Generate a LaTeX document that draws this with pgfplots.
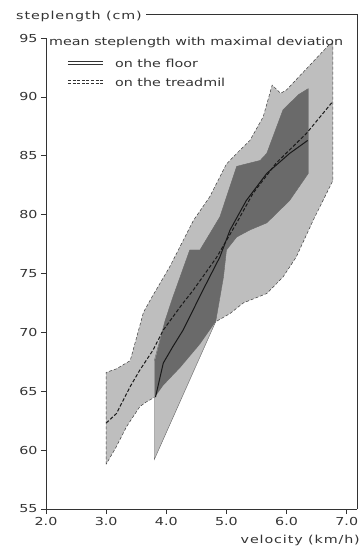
\documentclass[border=0pt]{standalone}
\usepackage{pgfplots}
\pgfplotsset{compat=1.18}
\usepackage{fontspec}
\setmainfont{DejaVu Sans}[FakeStretch=1.3]
\definecolor{lightg}{HTML}{BEBEBE}
\definecolor{darkg}{HTML}{6A6A6A}
\definecolor{txt}{HTML}{333333}
\begin{document}
\begin{tikzpicture}[font=\fontsize{11}{13}\selectfont]
\useasboundingbox (-46pt,-38pt) rectangle (316pt,509pt);
\begin{axis}[
  anchor=south west, at={(0,0)},
  scale only axis, width=311pt, height=471pt,
  xmin=2, xmax=7.17, ymin=55, ymax=95,
  axis x line=bottom, axis y line=left,
  axis line style={-, txt, line width=0.6pt},
  xtick={2,3,4,5,6,7}, xticklabels={2.0,3.0,4.0,5.0,6.0,7.0},
  ytick={55,60,65,70,75,80,85,90,95},
  tick align=outside, major tick length=5pt,
  tick style={txt, line width=0.6pt},
  tick label style={text=txt, font=\fontsize{11}{13}\selectfont},
  /pgf/number format/assume math mode=true,
  clip=false,
]
% treadmill band
\addplot[fill=lightg, draw=black!75, densely dashed, line width=0.5pt] coordinates {
(3.0,58.8)(3.0,66.6)(3.17,66.9)(3.4,67.6)(3.62,71.7)(3.75,72.9)(4.06,75.6)(4.45,79.5)(4.72,81.5)(5.0,84.3)(5.17,85.2)(5.39,86.3)(5.61,88.3)(5.76,91.0)(5.9,90.3)(6.0,90.6)(6.72,94.5)(6.77,94.5)(6.77,82.9)(6.44,79.5)(6.16,76.4)(5.94,74.7)(5.67,73.3)(5.28,72.5)(5.06,71.6)(4.82,70.9)(4.56,69.0)(4.23,67.0)(3.95,65.5)(3.81,64.5)(3.67,64.1)(3.56,63.7)(3.34,62.0)(3.17,60.3)(3.0,58.8)
} -- cycle;
% floor band
\addplot[fill=lightg, draw=black!60, line width=0.4pt] coordinates {
(3.8,59.2)(3.8,67.6)(3.98,71.0)(4.11,73.0)(4.39,77.0)(4.56,77.0)(4.89,79.8)(5.17,84.1)(5.56,84.6)(5.67,85.2)(5.94,88.9)(6.2,90.2)(6.36,90.7)(6.36,83.5)(6.05,81.2)(5.67,79.3)(5.39,78.7)(5.17,78.1)(5.0,77.0)(4.95,74.7)(4.82,70.9)(3.8,59.2)
} -- cycle;
% overlap
\addplot[fill=darkg, draw=none] coordinates {
(3.81,64.5)(3.81,67.6)(3.98,71.0)(4.11,73.0)(4.39,77.0)(4.56,77.0)(4.89,79.8)(5.17,84.1)(5.56,84.6)(5.67,85.2)(5.94,88.9)(6.2,90.2)(6.36,90.7)(6.36,83.5)(6.05,81.2)(5.67,79.3)(5.39,78.7)(5.17,78.1)(5.0,77.0)(4.95,74.7)(4.82,70.9)(4.56,69.0)(4.23,67.0)(3.95,65.5)(3.81,64.5)
} -- cycle;
% treadmill mean
\addplot[black!90, line width=1pt, dash pattern=on 3.5pt off 2pt] coordinates {
(3.0,62.3)(3.17,63.1)(3.4,65.4)(3.56,66.8)(3.78,68.5)(3.95,70.2)(4.25,72.3)(4.45,73.6)(4.84,76.4)(5.17,79.3)(5.44,81.8)(5.83,84.4)(6.33,86.9)(6.75,89.5)
};
% floor mean
\addplot[black!90, line width=1pt] coordinates {
(3.82,64.5)(3.95,67.4)(4.11,68.8)(4.28,70.2)(4.61,73.6)(4.89,76.4)(5.06,78.7)(5.33,81.2)(5.67,83.5)(6.05,85.2)(6.35,86.3)
};
% frame
\node[anchor=base west, inner sep=0pt, text=txt] (ttl) at ([xshift=-30pt]axis cs:2,96.57) {\addfontfeature{LetterSpace=8}steplength (cm)};
\draw[txt, line width=0.6pt] (axis cs:7.17,55) -- (axis cs:7.17,97.04) -- ([xshift=4pt]ttl.east |- {axis cs:7.17,97.04});
\node[anchor=east, inner sep=0pt, text=txt] at (axis cs:7.22,52.37) {\addfontfeature{LetterSpace=8}velocity (km/h)};
% legend
\node[anchor=west, inner sep=0pt, text=txt] at (axis cs:2.05,94.58) {mean steplength with maximal deviation};
\draw[txt, line width=0.7pt] (axis cs:2.365,93.0) -- (axis cs:2.947,93.0);
\draw[txt, line width=0.7pt] (axis cs:2.365,92.76) -- (axis cs:2.947,92.76);
\node[anchor=west, inner sep=0pt, text=txt] at (axis cs:3.146,92.88) {on the floor};
\draw[txt, line width=0.7pt, dash pattern=on 3pt off 1.6pt] (axis cs:2.365,91.39) -- (axis cs:2.947,91.39);
\draw[txt, line width=0.7pt, dash pattern=on 3pt off 1.6pt] (axis cs:2.365,91.13) -- (axis cs:2.947,91.13);
\node[anchor=west, inner sep=0pt, text=txt] at (axis cs:3.146,91.26) {on the treadmil};
\end{axis}
\end{tikzpicture}
\end{document}
